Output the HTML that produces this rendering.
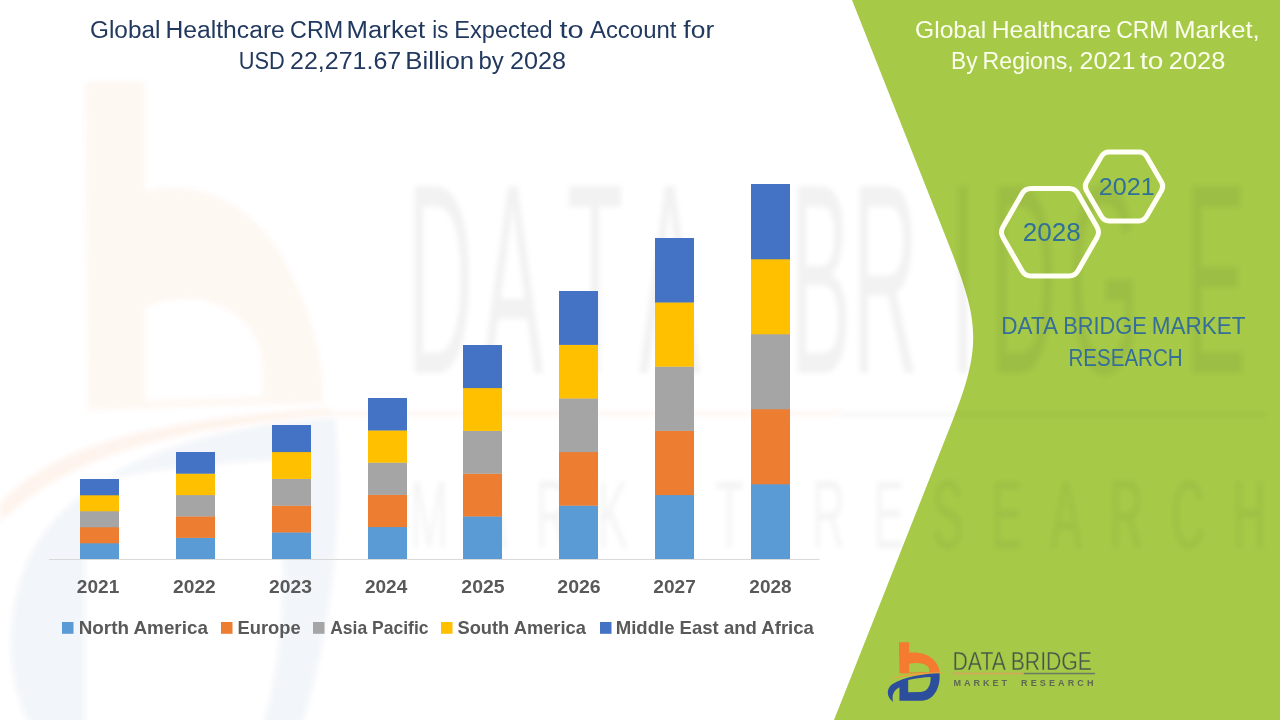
<!DOCTYPE html>
<html><head><meta charset="utf-8">
<style>
html,body{margin:0;padding:0;background:#fff;}
body{width:1280px;height:720px;overflow:hidden;position:relative;}
svg{position:absolute;left:0;top:0;}
text{font-family:"Liberation Sans",sans-serif;}
</style></head><body>
<svg width="1280" height="720" viewBox="0 0 1280 720">
<defs>
<filter id="blur" x="-10%" y="-10%" width="120%" height="120%"><feGaussianBlur stdDeviation="2.5"/></filter>
</defs>
<rect width="1280" height="720" fill="#ffffff"/>
<path d="M852,0 L1280,0 L1280,720 L834,720 L952.8,420 C983.6,342.2 977.8,317.8 947,240 Z" fill="#A6C948"/>
<!-- watermark -->
<g filter="url(#blur)">
<g transform="translate(-26,15) scale(0.57,1.026)">
<path d="M195,65 L300,65 L300,172 C390,160 480,180 540,235 C590,285 612,330 614,378 L200,385 Z M300,285 C370,268 460,275 498,318 C508,335 508,355 506,372 L300,376 Z" fill="#F05A30" fill-rule="evenodd" opacity="0.05"/>
</g>
<path d="M0,503 C45,458 110,422 330,408 L330,415 C125,432 55,472 0,522 Z" fill="#F05A30" opacity="0.07"/>
<path d="M335,418 C200,424 70,470 28,560 C0,625 10,700 35,730 L300,730 C330,640 345,520 335,418 Z M85,482 C150,470 215,462 275,460 C290,560 285,650 262,730 L85,730 Z" fill="#2C4E9C" fill-rule="evenodd" opacity="0.05"/>
<g opacity="0.05" fill="#000">
<text x="407 482 567 639 790 852 950 990 1068 1185" y="373" font-size="92" transform="translate(0,373) scale(1,2.95) translate(0,-373)">DATABRIDGE</text>
<text x="410" y="548" font-size="46" transform="translate(0,548) scale(1,2.1) translate(0,-548)" textLength="856" lengthAdjust="spacing" opacity="0.8">MARKET   RESEARCH</text>
</g>
<rect x="330" y="411" width="510" height="5" fill="#F47B2F" opacity="0.05"/>
<rect x="840" y="412" width="425" height="5" fill="#000" opacity="0.03"/>
</g>
<!-- titles -->
<text x="90.03" y="37.5" font-size="23.5" fill="#22395F" textLength="70.35" lengthAdjust="spacingAndGlyphs" >Global</text>
<text x="165.48" y="37.5" font-size="23.5" fill="#22395F" textLength="119.37" lengthAdjust="spacingAndGlyphs" >Healthcare</text>
<text x="290.07" y="37.5" font-size="23.5" fill="#22395F" textLength="53.10" lengthAdjust="spacingAndGlyphs" >CRM</text>
<text x="346.64" y="37.5" font-size="23.5" fill="#22395F" textLength="78.55" lengthAdjust="spacingAndGlyphs" >Market</text>
<text x="432.26" y="37.5" font-size="23.5" fill="#22395F" textLength="16.04" lengthAdjust="spacingAndGlyphs" >is</text>
<text x="454.31" y="37.5" font-size="23.5" fill="#22395F" textLength="98.46" lengthAdjust="spacingAndGlyphs" >Expected</text>
<text x="559.56" y="37.5" font-size="23.5" fill="#22395F" textLength="24.15" lengthAdjust="spacingAndGlyphs" >to</text>
<text x="589.95" y="37.5" font-size="23.5" fill="#22395F" textLength="86.47" lengthAdjust="spacingAndGlyphs" >Account</text>
<text x="683.38" y="37.5" font-size="23.5" fill="#22395F" textLength="30.81" lengthAdjust="spacingAndGlyphs" >for</text>
<text x="238.82" y="68.75" font-size="23.5" fill="#22395F" textLength="45.97" lengthAdjust="spacingAndGlyphs" >USD</text>
<text x="289.99" y="68.75" font-size="23.5" fill="#22395F" textLength="111.27" lengthAdjust="spacingAndGlyphs" >22,271.67</text>
<text x="405.38" y="68.75" font-size="23.5" fill="#22395F" textLength="68.79" lengthAdjust="spacingAndGlyphs" >Billion</text>
<text x="478.45" y="68.75" font-size="23.5" fill="#22395F" textLength="25.34" lengthAdjust="spacingAndGlyphs" >by</text>
<text x="509.98" y="68.75" font-size="23.5" fill="#22395F" textLength="56.11" lengthAdjust="spacingAndGlyphs" >2028</text>
<text x="915.06" y="37.8" font-size="24" fill="#FCFFEE" textLength="71.08" lengthAdjust="spacingAndGlyphs" >Global</text>
<text x="991.67" y="37.8" font-size="24" fill="#FCFFEE" textLength="119.73" lengthAdjust="spacingAndGlyphs" >Healthcare</text>
<text x="1116.13" y="37.8" font-size="24" fill="#FCFFEE" textLength="52.35" lengthAdjust="spacingAndGlyphs" >CRM</text>
<text x="1174.30" y="37.8" font-size="24" fill="#FCFFEE" textLength="85.30" lengthAdjust="spacingAndGlyphs" >Market,</text>
<text x="951.04" y="69.1" font-size="24" fill="#FCFFEE" textLength="26.51" lengthAdjust="spacingAndGlyphs" >By</text>
<text x="982.61" y="69.1" font-size="24" fill="#FCFFEE" textLength="91.17" lengthAdjust="spacingAndGlyphs" >Regions,</text>
<text x="1079.64" y="69.1" font-size="24" fill="#FCFFEE" textLength="55.79" lengthAdjust="spacingAndGlyphs" >2021</text>
<text x="1140.08" y="69.1" font-size="24" fill="#FCFFEE" textLength="23.40" lengthAdjust="spacingAndGlyphs" >to</text>
<text x="1168.82" y="69.1" font-size="24" fill="#FCFFEE" textLength="56.48" lengthAdjust="spacingAndGlyphs" >2028</text>

<!-- chart -->
<rect x="80" y="543.00" width="39" height="16.30" fill="#5B9BD5"/>
<rect x="80" y="527.00" width="39" height="16.30" fill="#ED7D31"/>
<rect x="80" y="511.00" width="39" height="16.30" fill="#A5A5A5"/>
<rect x="80" y="495.00" width="39" height="16.30" fill="#FFC000"/>
<rect x="80" y="479.00" width="39" height="16.30" fill="#4472C4"/>
<rect x="176" y="537.60" width="39" height="21.70" fill="#5B9BD5"/>
<rect x="176" y="516.20" width="39" height="21.70" fill="#ED7D31"/>
<rect x="176" y="494.80" width="39" height="21.70" fill="#A5A5A5"/>
<rect x="176" y="473.40" width="39" height="21.70" fill="#FFC000"/>
<rect x="176" y="452.00" width="39" height="21.70" fill="#4472C4"/>
<rect x="272" y="532.20" width="39" height="27.10" fill="#5B9BD5"/>
<rect x="272" y="505.40" width="39" height="27.10" fill="#ED7D31"/>
<rect x="272" y="478.60" width="39" height="27.10" fill="#A5A5A5"/>
<rect x="272" y="451.80" width="39" height="27.10" fill="#FFC000"/>
<rect x="272" y="425.00" width="39" height="27.10" fill="#4472C4"/>
<rect x="368" y="526.80" width="39" height="32.50" fill="#5B9BD5"/>
<rect x="368" y="494.60" width="39" height="32.50" fill="#ED7D31"/>
<rect x="368" y="462.40" width="39" height="32.50" fill="#A5A5A5"/>
<rect x="368" y="430.20" width="39" height="32.50" fill="#FFC000"/>
<rect x="368" y="398.00" width="39" height="32.50" fill="#4472C4"/>
<rect x="463" y="516.20" width="39" height="43.10" fill="#5B9BD5"/>
<rect x="463" y="473.40" width="39" height="43.10" fill="#ED7D31"/>
<rect x="463" y="430.60" width="39" height="43.10" fill="#A5A5A5"/>
<rect x="463" y="387.80" width="39" height="43.10" fill="#FFC000"/>
<rect x="463" y="345.00" width="39" height="43.10" fill="#4472C4"/>
<rect x="559" y="505.40" width="39" height="53.90" fill="#5B9BD5"/>
<rect x="559" y="451.80" width="39" height="53.90" fill="#ED7D31"/>
<rect x="559" y="398.20" width="39" height="53.90" fill="#A5A5A5"/>
<rect x="559" y="344.60" width="39" height="53.90" fill="#FFC000"/>
<rect x="559" y="291.00" width="39" height="53.90" fill="#4472C4"/>
<rect x="655" y="494.80" width="39" height="64.50" fill="#5B9BD5"/>
<rect x="655" y="430.60" width="39" height="64.50" fill="#ED7D31"/>
<rect x="655" y="366.40" width="39" height="64.50" fill="#A5A5A5"/>
<rect x="655" y="302.20" width="39" height="64.50" fill="#FFC000"/>
<rect x="655" y="238.00" width="39" height="64.50" fill="#4472C4"/>
<rect x="751" y="484.00" width="39" height="75.30" fill="#5B9BD5"/>
<rect x="751" y="409.00" width="39" height="75.30" fill="#ED7D31"/>
<rect x="751" y="334.00" width="39" height="75.30" fill="#A5A5A5"/>
<rect x="751" y="259.00" width="39" height="75.30" fill="#FFC000"/>
<rect x="751" y="184.00" width="39" height="75.30" fill="#4472C4"/>
<line x1="49" y1="559.5" x2="819.5" y2="559.5" stroke="#D9D9D9" stroke-width="1"/>
<text x="76.84" y="593" font-size="19" font-weight="bold" fill="#595959" textLength="42.44" lengthAdjust="spacingAndGlyphs" >2021</text>
<text x="173.08" y="593" font-size="19" font-weight="bold" fill="#595959" textLength="42.68" lengthAdjust="spacingAndGlyphs" >2022</text>
<text x="269.03" y="593" font-size="19" font-weight="bold" fill="#595959" textLength="42.92" lengthAdjust="spacingAndGlyphs" >2023</text>
<text x="364.94" y="593" font-size="19" font-weight="bold" fill="#595959" textLength="42.36" lengthAdjust="spacingAndGlyphs" >2024</text>
<text x="461.33" y="593" font-size="19" font-weight="bold" fill="#595959" textLength="43.21" lengthAdjust="spacingAndGlyphs" >2025</text>
<text x="557.32" y="593" font-size="19" font-weight="bold" fill="#595959" textLength="43.38" lengthAdjust="spacingAndGlyphs" >2026</text>
<text x="653.34" y="593" font-size="19" font-weight="bold" fill="#595959" textLength="42.50" lengthAdjust="spacingAndGlyphs" >2027</text>
<text x="749.34" y="593" font-size="19" font-weight="bold" fill="#595959" textLength="42.24" lengthAdjust="spacingAndGlyphs" >2028</text>
<rect x="62" y="622" width="11.5" height="11.8" fill="#5B9BD5"/>
<text x="78.75" y="633.75" font-size="19" font-weight="bold" fill="#595959" textLength="129.13" lengthAdjust="spacingAndGlyphs" >North America</text>
<rect x="221" y="622" width="11.5" height="11.8" fill="#ED7D31"/>
<text x="237.52" y="633.75" font-size="19" font-weight="bold" fill="#595959" textLength="63.10" lengthAdjust="spacingAndGlyphs" >Europe</text>
<rect x="313" y="622" width="11.5" height="11.8" fill="#A5A5A5"/>
<text x="330.16" y="633.75" font-size="19" font-weight="bold" fill="#595959" textLength="98.35" lengthAdjust="spacingAndGlyphs" >Asia Pacific</text>
<rect x="441" y="622" width="11.5" height="11.8" fill="#FFC000"/>
<text x="457.48" y="633.75" font-size="19" font-weight="bold" fill="#595959" textLength="128.41" lengthAdjust="spacingAndGlyphs" >South America</text>
<rect x="600" y="622" width="11.5" height="11.8" fill="#4472C4"/>
<text x="615.76" y="633.75" font-size="19" font-weight="bold" fill="#595959" textLength="198.12" lengthAdjust="spacingAndGlyphs" >Middle East and Africa</text>

<!-- hexagons -->
<path d="M1086.51,190.73 Q1084.00,186.40 1086.51,182.07 L1101.49,156.23 Q1104.00,151.90 1109.00,151.90 L1139.00,151.90 Q1144.00,151.90 1146.51,156.23 L1161.49,182.07 Q1164.00,186.40 1161.49,190.73 L1146.51,216.57 Q1144.00,220.90 1139.00,220.90 L1109.00,220.90 Q1104.00,220.90 1101.49,216.57 Z" fill="none" stroke="#FFFFF5" stroke-width="5"/>
<path d="M1002.98,237.51 Q1000.00,232.30 1002.98,227.09 L1022.02,193.76 Q1025.00,188.55 1031.00,188.55 L1069.00,188.55 Q1075.00,188.55 1077.98,193.76 L1097.02,227.09 Q1100.00,232.30 1097.02,237.51 L1077.98,270.84 Q1075.00,276.05 1069.00,276.05 L1031.00,276.05 Q1025.00,276.05 1022.02,270.84 Z" fill="none" stroke="#FFFFF5" stroke-width="5"/>
<text x="1098.73" y="195" font-size="24" fill="#31709A" textLength="55.99" lengthAdjust="spacingAndGlyphs" >2021</text>
<text x="1022.69" y="241" font-size="26" fill="#31709A" textLength="58.05" lengthAdjust="spacingAndGlyphs" >2028</text>
<text x="1001.36" y="333.6" font-size="24.5" fill="#356F98" textLength="56.69" lengthAdjust="spacingAndGlyphs" >DATA</text>
<text x="1063.31" y="333.6" font-size="24.5" fill="#356F98" textLength="83.52" lengthAdjust="spacingAndGlyphs" >BRIDGE</text>
<text x="1151.65" y="333.6" font-size="24.5" fill="#356F98" textLength="93.76" lengthAdjust="spacingAndGlyphs" >MARKET</text>
<text x="1068.52" y="365.9" font-size="24.5" fill="#356F98" textLength="114.06" lengthAdjust="spacingAndGlyphs" >RESEARCH</text>

<!-- logo -->
<g transform="translate(880,636) scale(0.09722)" opacity="1.0" >
<path d="M195,65 L300,65 L300,172 C390,160 480,180 540,235 C590,285 612,330 614,378 L200,385 Z M300,285 C370,268 460,275 498,318 C508,335 508,355 506,372 L300,376 Z" fill="#F47B2F" fill-rule="evenodd"/>
<path d="M85,445 C250,390 450,372 655,376 L655,384 C450,392 250,415 85,445 Z" fill="#F0A040"/>
<path d="M612,384 C450,388 250,420 130,495 C60,545 65,620 135,678 C118,615 140,560 200,528 L200,665 L430,665 C560,660 625,520 612,384 Z M290,452 C380,432 450,426 520,422 C526,500 492,570 420,576 L290,578 Z" fill="#2C4E9C" fill-rule="evenodd"/>
</g>
<text x="952.5" y="669.6" font-size="26.5" fill="#4A544A" stroke="#A6C948" stroke-width="0.35" textLength="139.5" lengthAdjust="spacingAndGlyphs">DATA BRIDGE</text>
<rect x="952.5" y="672.8" width="71.3" height="1.5" fill="#D8A560"/>
<rect x="1023.8" y="672.8" width="71.2" height="1.5" fill="#6B7A62"/>
<text x="953.5" y="686.2" font-size="9" font-weight="bold" fill="#5E6855" textLength="53.5" lengthAdjust="spacing">MARKET</text><text x="1021" y="686.2" font-size="9" font-weight="bold" fill="#5E6855" textLength="72.5" lengthAdjust="spacing">RESEARCH</text>
</svg>
</body></html>
